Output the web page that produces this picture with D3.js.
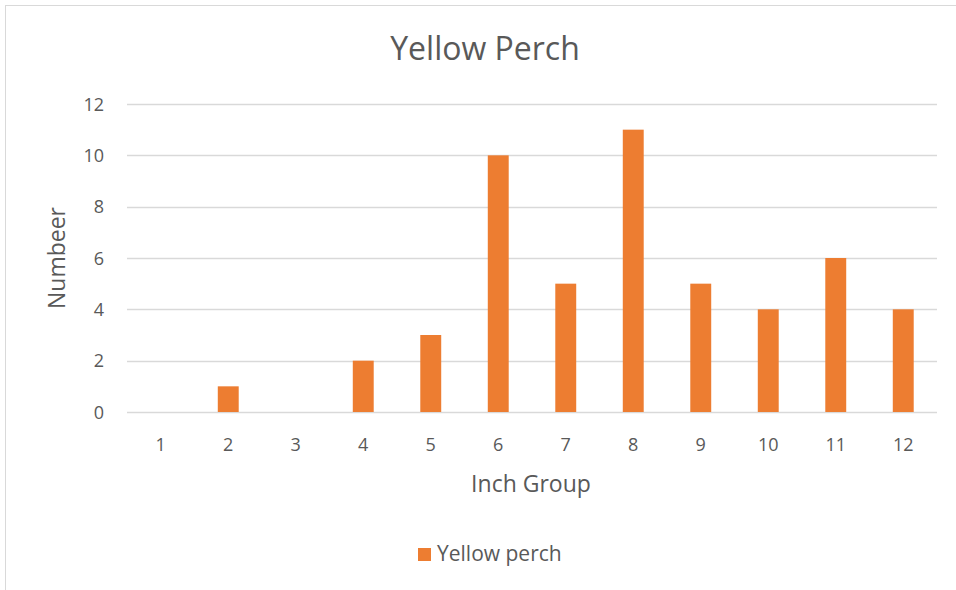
<!DOCTYPE html>
<html>
<head>
<meta charset="utf-8">
<script src="https://cdn.jsdelivr.net/npm/d3@7"></script>
<style>
  body { margin: 0; background: #fff; }
  text { font-family: "Open Sans", sans-serif; fill: #595959; }
</style>
</head>
<body>
<svg id="chart" width="956" height="590"></svg>
<script>
const categories = ["1", "2", "3", "4", "5", "6", "7", "8", "9", "10", "11", "12"];
const counts = [0, 1, 0, 2, 3, 10, 5, 11, 5, 4, 6, 4];
const yTicks = [0, 2, 4, 6, 8, 10, 12];
const seriesName = "Yellow perch";

const svg = d3.select("#chart");
const margin = { left: 127, right: 19, top: 104, bottom: 178 };
const width = 956, height = 590;

// chart border
svg.append("rect")
  .attr("x", 5.5).attr("y", 5.5)
  .attr("width", 960).attr("height", 600)
  .attr("fill", "none")
  .attr("stroke", "#d9d9d9");

const x = d3.scaleBand()
  .domain(categories)
  .range([margin.left, width - margin.right])
  .paddingInner(0.69)
  .paddingOuter(0.345);

const y = d3.scaleLinear()
  .domain([0, 12])
  .range([height - margin.bottom, margin.top]);

// gridlines
svg.append("g")
  .selectAll("line")
  .data(yTicks)
  .join("line")
  .attr("x1", margin.left).attr("x2", width - margin.right)
  .attr("y1", d => Math.round(y(d)) + 0.5).attr("y2", d => Math.round(y(d)) + 0.5)
  .attr("stroke", "#d9d9d9")
  .attr("stroke-width", 1.3);

// y tick labels
svg.append("g")
  .selectAll("text")
  .data(yTicks)
  .join("text")
  .attr("x", 104)
  .attr("y", d => y(d) + 6.5)
  .attr("text-anchor", "end")
  .attr("font-size", 18)
  .text(d => d);

// bars
svg.append("g")
  .selectAll("rect")
  .data(counts)
  .join("rect")
  .attr("x", (d, i) => x(categories[i]))
  .attr("width", x.bandwidth())
  .attr("y", d => y(d))
  .attr("height", d => y(0) - y(d))
  .attr("fill", "#ed7d31");

// x tick labels
svg.append("g")
  .selectAll("text")
  .data(categories)
  .join("text")
  .attr("x", d => x(d) + x.bandwidth() / 2)
  .attr("y", 451)
  .attr("text-anchor", "middle")
  .attr("font-size", 18)
  .text(d => d);

// title
svg.append("text")
  .attr("x", 485).attr("y", 60)
  .attr("text-anchor", "middle")
  .attr("font-size", 32)
  .text("Yellow Perch");

// axis titles
svg.append("text")
  .attr("x", 531).attr("y", 492)
  .attr("text-anchor", "middle")
  .attr("font-size", 23)
  .text("Inch Group");

svg.append("text")
  .attr("transform", "translate(65,258) rotate(-90)")
  .attr("text-anchor", "middle")
  .attr("font-size", 23)
  .text("Numbeer");

// legend
const legend = svg.append("g").attr("transform", "translate(418,548)");
legend.append("rect").attr("width", 13).attr("height", 13).attr("fill", "#ed7d31");
legend.append("text").attr("x", 19).attr("y", 13).attr("font-size", 21).text(seriesName);
</script>
</body>
</html>
